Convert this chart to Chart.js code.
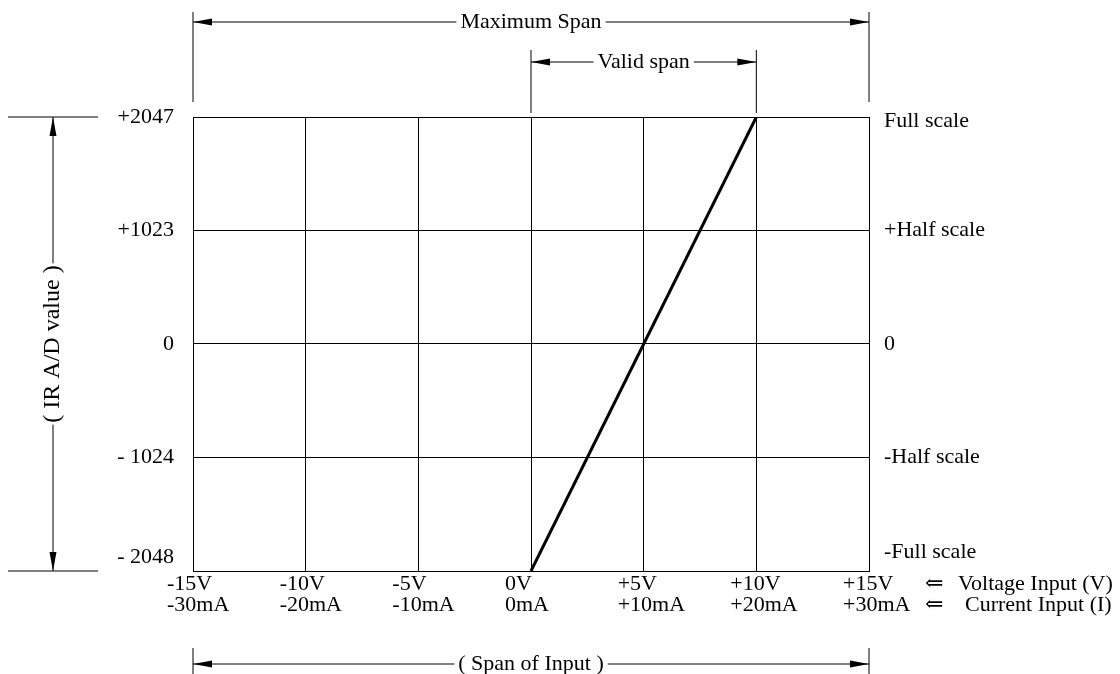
<!DOCTYPE html>
<html>
<head>
<meta charset="utf-8">
<script src="https://cdn.jsdelivr.net/npm/chart.js@4/dist/chart.umd.min.js"></script>
<style>
	body { margin: 0; background: #fff; }
	#wrap { width: 1120px; height: 674px; }
</style>
</head>
<body>
<div id="wrap"><canvas id="chart" width="1120" height="674"></canvas></div>
<script>
// input axis (volts / milliamps)
const voltageTicks = [-15, -10, -5, 0, 5, 10, 15];
const voltageLabels = ["-15V", "-10V", "-5V", "0V", "+5V", "+10V", "+15V"];
const currentLabels = ["-30mA", "-20mA", "-10mA", "0mA", "+10mA", "+20mA", "+30mA"];

// A/D value axis
const adTicks = [-2048, -1024, 0, 1023, 2047];
const adLabels = ["- 2048", "- 1024", "0", "+1023", "+2047"];
const scaleLabels = ["-Full scale", "-Half scale", "0", "+Half scale", "Full scale"];

// transfer line
const lineVoltage = [0, 10];
const lineAD = [-2048, 2047];

// spans (in volts)
const maxSpan = [-15, 15];
const validSpan = [0, 10];

const FONT = '22px "Liberation Serif", "DejaVu Serif", serif';
const FONT_AXIS = '24px "Liberation Serif", "DejaVu Serif", serif';

function arrowHead(ctx, x, y, dx, dy) {
	// filled narrow arrowhead with tip at (x, y), pointing along (dx, dy)
	const len = 19, half = 3.5;
	const bx = x - dx * len, by = y - dy * len;
	ctx.beginPath();
	ctx.moveTo(x, y);
	ctx.lineTo(bx - dy * half, by + dx * half);
	ctx.lineTo(bx + dy * half, by - dx * half);
	ctx.closePath();
	ctx.fill();
}

function line(ctx, x1, y1, x2, y2) {
	ctx.beginPath();
	ctx.moveTo(x1, y1);
	ctx.lineTo(x2, y2);
	ctx.stroke();
}

// horizontal dimension line with centred label and outward arrows
function hSpan(ctx, xa, xb, y, text) {
	const cx = (xa + xb) / 2;
	const w = ctx.measureText(text).width;
	line(ctx, xa, y, cx - w / 2 - 4, y);
	line(ctx, cx + w / 2 + 4, y, xb, y);
	arrowHead(ctx, xa, y, -1, 0);
	arrowHead(ctx, xb, y, 1, 0);
	ctx.textAlign = "center";
	ctx.textBaseline = "middle";
	ctx.fillText(text, cx, y);
}

const annotations = {
	id: "annotations",
	afterDraw(chart) {
		const { ctx, chartArea } = chart;
		const xs = chart.scales.x, ys = chart.scales.y;
		const { top, bottom, left, right } = chartArea;
		ctx.save();
		ctx.fillStyle = "#000";
		ctx.strokeStyle = "#000";
		ctx.lineWidth = 1;
		ctx.font = FONT;

		// y tick labels (left) and scale names (right)
		adTicks.forEach((v, i) => {
			const py = ys.getPixelForValue(v);
			ctx.textBaseline = "middle";
			ctx.textAlign = "right";
			ctx.fillText(adLabels[i], left - 19, Math.min(Math.max(py, top - 2), bottom - 14));
			ctx.textAlign = "left";
			ctx.fillText(scaleLabels[i], right + 15, Math.min(Math.max(py, top + 4), bottom - 19));
		});

		// x tick labels, two rows
		voltageTicks.forEach((v, i) => {
			const px = xs.getPixelForValue(v);
			ctx.textAlign = "left";
			ctx.textBaseline = "middle";
			ctx.fillText(voltageLabels[i], px - 26, bottom + 13);
			ctx.fillText(currentLabels[i], px - 26, bottom + 34);
		});
		const xr = xs.getPixelForValue(15);
		ctx.textAlign = "left";
		ctx.fillText("\u21D0", xr + 56, bottom + 13);
		ctx.fillText("\u21D0", xr + 56, bottom + 34);
		ctx.fillText("Voltage Input (V)", xr + 89, bottom + 13);
		ctx.fillText("Current Input (I)", xr + 96, bottom + 34);

		// Maximum Span
		const mx1 = xs.getPixelForValue(maxSpan[0]), mx2 = xs.getPixelForValue(maxSpan[1]);
		line(ctx, mx1, top - 105, mx1, top - 15);
		line(ctx, mx2, top - 105, mx2, top - 15);
		hSpan(ctx, mx1, mx2, top - 95, "Maximum Span");

		// Valid span
		const vx1 = xs.getPixelForValue(validSpan[0]), vx2 = xs.getPixelForValue(validSpan[1]);
		line(ctx, vx1, top - 67, vx1, top - 4);
		line(ctx, vx2, top - 67, vx2, top - 4);
		hSpan(ctx, vx1, vx2, top - 55, "Valid span");

		// Span of Input
		line(ctx, mx1, bottom + 77, mx1, bottom + 103);
		line(ctx, mx2, bottom + 77, mx2, bottom + 103);
		hSpan(ctx, mx1, mx2, bottom + 93, "( Span of Input )");

		// IR A/D value dimension on the left
		const yTop = ys.getPixelForValue(adTicks[adTicks.length - 1]);
		const yBot = ys.getPixelForValue(adTicks[0]);
		line(ctx, 8, yTop, 98, yTop);
		line(ctx, 8, yBot, 98, yBot);
		ctx.font = FONT_AXIS;
		const ax = 53, cy = (yTop + yBot) / 2;
		const label = "( IR A/D value )";
		const lw = ctx.measureText(label).width;
		line(ctx, ax, yTop, ax, cy - lw / 2 - 2);
		line(ctx, ax, cy + lw / 2 + 2, ax, yBot);
		arrowHead(ctx, ax, yTop, 0, -1);
		arrowHead(ctx, ax, yBot, 0, 1);
		ctx.translate(ax, cy);
		ctx.rotate(-Math.PI / 2);
		ctx.textAlign = "center";
		ctx.textBaseline = "middle";
		ctx.fillText(label, 0, 0);
		ctx.restore();
	},
};

const points = lineVoltage.map((v, i) => ({ x: v, y: lineAD[i] }));

new Chart(document.getElementById("chart"), {
	type: "scatter",
	data: {
		datasets: [
			{
				data: points,
				showLine: true,
				borderColor: "#000",
				borderWidth: 3,
				pointRadius: 0,
			},
		],
	},
	options: {
		responsive: false,
		animation: false,
		layout: { padding: { left: 193, right: 251, top: 117, bottom: 103 } },
		plugins: { legend: { display: false }, tooltip: { enabled: false } },
		scales: {
			x: {
				type: "linear",
				min: maxSpan[0],
				max: maxSpan[1],
				afterBuildTicks: (s) => { s.ticks = voltageTicks.map((v) => ({ value: v })); },
				ticks: { display: false },
				grid: { color: "#000", lineWidth: 1, drawTicks: false },
				border: { color: "#000", width: 1 },
			},
			y: {
				type: "linear",
				min: adTicks[0],
				max: adTicks[adTicks.length - 1],
				afterBuildTicks: (s) => { s.ticks = adTicks.map((v) => ({ value: v })); },
				ticks: { display: false },
				grid: { color: "#000", lineWidth: 1, drawTicks: false },
				border: { color: "#000", width: 1 },
			},
		},
	},
	plugins: [annotations],
});
</script>
</body>
</html>
